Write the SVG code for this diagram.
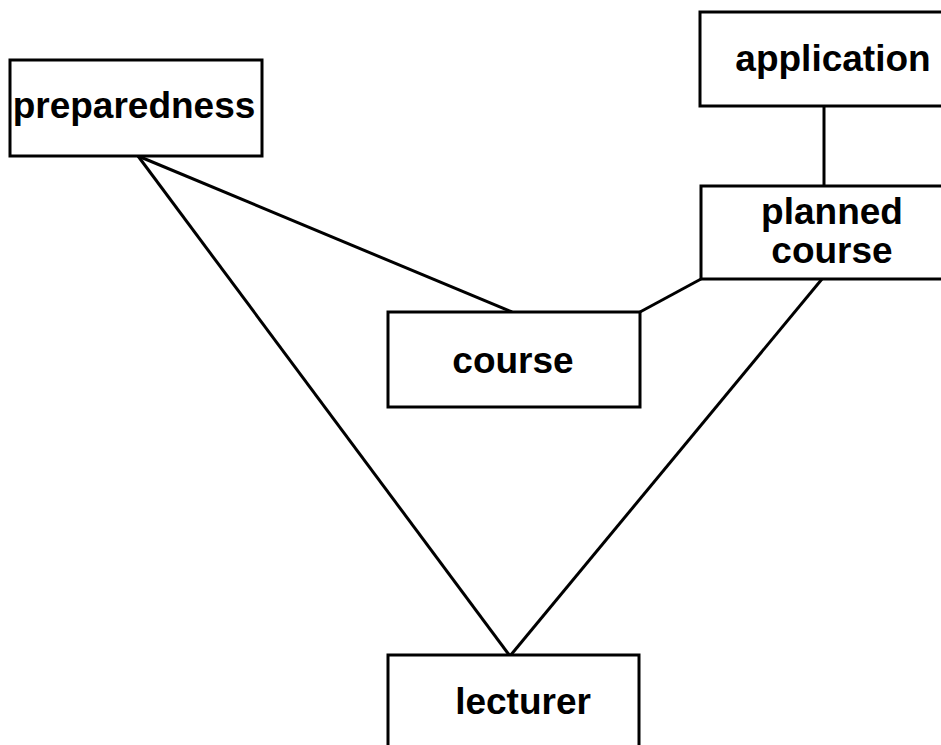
<svg xmlns="http://www.w3.org/2000/svg" width="941" height="745" viewBox="0 0 941 745">
<style>
.box{fill:#fff;stroke:#000;stroke-width:3}
.lbl{font-family:"Liberation Sans",Arial,sans-serif;font-weight:bold;font-size:37px;fill:#000;text-anchor:middle}
.edge{stroke:#000;stroke-width:3;fill:none}
</style>
<rect width="941" height="745" fill="#fff"/>
<g id="connectors">
<line class="edge" x1="138" y1="156" x2="512" y2="312"/>
<line class="edge" x1="138" y1="156" x2="510" y2="656"/>
<line class="edge" x1="640" y1="312" x2="701" y2="279"/>
<line class="edge" x1="822" y1="279" x2="510" y2="656"/>
<line class="edge" x1="824" y1="106" x2="824" y2="186"/>
</g>
<g id="preparedness">
<rect class="box" x="10" y="60" width="252" height="96"/>
<text class="lbl" x="134" y="118">preparedness</text>
</g>
<g id="application">
<rect class="box" x="700" y="12" width="250" height="94"/>
<text class="lbl" x="833" y="71">application</text>
</g>
<g id="planned_course">
<rect class="box" x="701" y="186" width="250" height="93"/>
<text class="lbl" x="832" y="224">planned</text>
<text class="lbl" x="832" y="263">course</text>
</g>
<g id="course">
<rect class="box" x="388" y="312" width="252" height="95"/>
<text class="lbl" x="513" y="373">course</text>
</g>
<g id="lecturer">
<rect class="box" x="388" y="655" width="251" height="100"/>
<text class="lbl" x="523" y="714">lecturer</text>
</g>
</svg>
